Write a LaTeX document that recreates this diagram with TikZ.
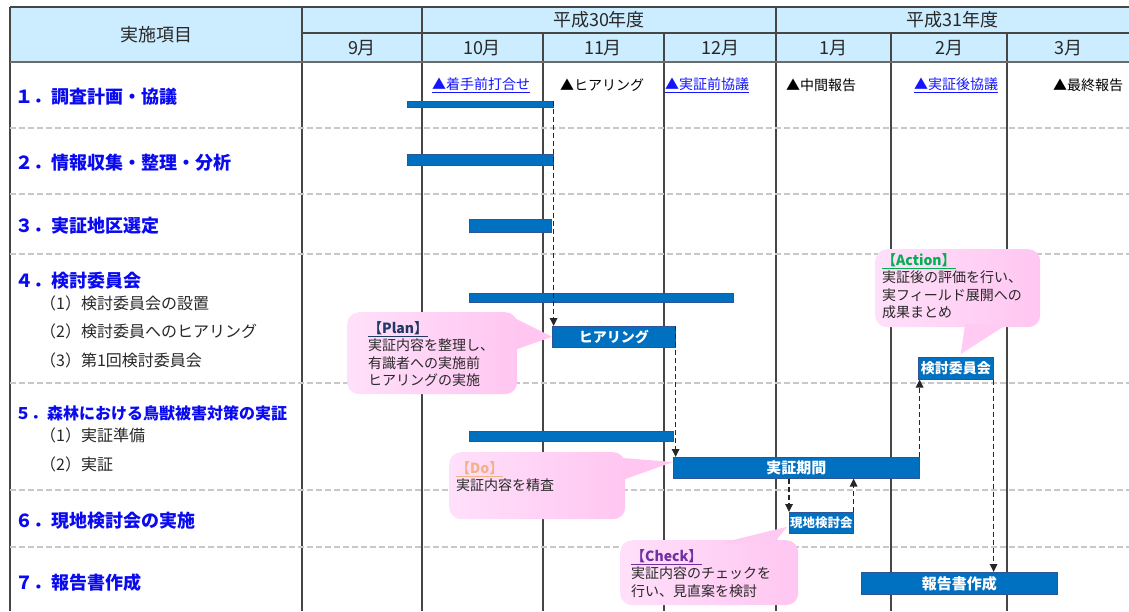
\documentclass[tikz,border=0pt]{standalone}
\usepackage{fontspec}
\setmainfont{Noto Sans CJK JP}
\usetikzlibrary{arrows.meta,calc}
\definecolor{hdr}{RGB}{204,236,255}
\definecolor{gridc}{RGB}{70,70,70}
\definecolor{dashc}{RGB}{200,200,200}
\definecolor{barc}{RGB}{0,112,192}
\definecolor{barb}{RGB}{47,85,151}
\definecolor{lbl}{RGB}{10,10,240}
\definecolor{lnk}{RGB}{20,20,255}
\definecolor{pinkL}{RGB}{255,224,250}
\definecolor{pinkR}{RGB}{255,198,241}
\definecolor{plancol}{RGB}{32,56,100}
\definecolor{actcol}{RGB}{0,176,80}
\definecolor{docol}{RGB}{244,177,131}
\definecolor{chkcol}{RGB}{112,48,160}
\definecolor{txtc}{RGB}{40,40,40}
\tikzset{
  gridline/.style={draw=gridc, line width=1.3pt},
  hdrbottom/.style={draw=gridc!80, line width=2.2pt},
  rowsep/.style={draw=dashc, line width=1.1pt, dash pattern=on 6pt off 3pt},
  hdrtxt/.style={inner sep=0pt, text=txtc, font=\fontsize{18}{18}\selectfont},
  mainlbl/.style={inner sep=0pt, anchor=west, text=lbl, font=\bfseries\fontsize{18}{18}\selectfont},
  sublbl/.style={inner sep=0pt, anchor=west, text=txtc, font=\fontsize{16}{16}\selectfont},
  mstone/.style={inner sep=0pt, anchor=west, text=black, font=\fontsize{14}{14}\selectfont},
  mslink/.style={mstone, text=lnk},
  bar/.style={draw=barb, line width=0.6pt, fill=barc, inner sep=0pt, anchor=north west,
              text=white, font=\bfseries\fontsize{14}{14}\selectfont},
  dasharrow/.style={draw=black!85, line width=1.6pt, dash pattern=on 5pt off 3pt,
              -{Triangle[length=8pt,width=7.5pt]}},
  callout/.style={left color=pinkL, right color=pinkR, rounded corners=12pt,
              inner sep=0pt, anchor=north west},
  ctext/.style={inner sep=0pt, anchor=north west, align=left, text=txtc,
              font=\fontsize{14}{17.5}\selectfont},
}
\begin{document}
\begin{tikzpicture}[x=1pt,y=-1pt]
\useasboundingbox[fill=white] (0,0) rectangle (1129,611);
% header
\fill[hdr] (10,7) rectangle (1129,62);
\draw[gridline] (10,7) -- (1129,7);
\draw[gridline] (302,33) -- (1129,33);
\foreach \x in {302,422,776} \draw[gridline] (\x,7) -- (\x,611);
\foreach \x in {543,664,891,1007} \draw[gridline] (\x,33) -- (\x,611);
\draw[gridline] (10,7) -- (10,611);
\draw[hdrbottom] (10,62) -- (1129,62);
\foreach \y in {128,194,254,383,490,547} \draw[rowsep] (10,\y) -- (1129,\y);

\node[hdrtxt] (hitem) at (156,35) {実施項目};
\node[hdrtxt] (h30) at (599,20) {平成30年度};
\node[hdrtxt] (h31) at (952,20) {平成31年度};
\node[hdrtxt] (m9) at (362,48) {9月};
\node[hdrtxt] (m10) at (482,48) {10月};
\node[hdrtxt] (m11) at (603,48) {11月};
\node[hdrtxt] (m12) at (720,48) {12月};
\node[hdrtxt] (m1) at (833,48) {1月};
\node[hdrtxt] (m2) at (949,48) {2月};
\node[hdrtxt] (m3) at (1068,48) {3月};

% row labels
\node[mainlbl] (l1) at (15,97) {１．調査計画・協議};
\node[mainlbl] (l2) at (15,163) {２．情報収集・整理・分析};
\node[mainlbl] (l3) at (15,226) {３．実証地区選定};
\node[mainlbl] (l4) at (15,281) {４．検討委員会};
\node[sublbl] (s41) at (40,303) {（1）検討委員会の設置};
\node[sublbl] (s42) at (40,331) {（2）検討委員へのヒアリング};
\node[sublbl] (s43) at (40,360) {（3）第1回検討委員会};
\node[mainlbl, font=\bfseries\fontsize{16}{16}\selectfont] (l5) at (15,413) {５．森林における鳥獣被害対策の実証};
\node[sublbl] (s51) at (40,435) {（1）実証準備};
\node[sublbl] (s52) at (40,464) {（2）実証};
\node[mainlbl] (l6) at (15,521) {６．現地検討会の実施};
\node[mainlbl] (l7) at (15,583) {７．報告書作成};

% milestones
\node[mslink] (ms1) at (432,85) {\underline{▲着手前打合せ}};
\node[mstone] (ms2) at (560,85) {▲ヒアリング};
\node[mslink] (ms3) at (665,85) {\underline{▲実証前協議}};
\node[mstone] (ms4) at (786,85) {▲中間報告};
\node[mslink] (ms5) at (914,85) {\underline{▲実証後協議}};
\node[mstone] (ms6) at (1053,85) {▲最終報告};

% callouts
\node[callout, minimum width=170pt, minimum height=82pt] (plan) at (347,312) {};
\node[callout, minimum width=165pt, minimum height=78pt] (act) at (875,249) {};
\node[callout, minimum width=176pt, minimum height=67pt] (do) at (449,452) {};
\node[callout, minimum width=178pt, minimum height=65pt] (chk) at (620,540) {};

% bars
\node[bar, minimum width=146pt, minimum height=6pt] (b1) at (407,101) {};
\node[bar, minimum width=146pt, minimum height=11pt] (b2) at (407,154) {};
\node[bar, minimum width=82pt, minimum height=13pt] (b3) at (469,219) {};
\node[bar, minimum width=264pt, minimum height=9pt] (b4a) at (469,293) {};
\node[bar, minimum width=123pt, minimum height=21pt] (b4b) at (552,326) {ヒアリング};
\node[bar, minimum width=75pt, minimum height=22pt] (b4c) at (918,357) {検討委員会};
\node[bar, minimum width=204pt, minimum height=10pt] (b5a) at (469,431) {};
\node[bar, minimum width=246pt, minimum height=21pt, font=\bfseries\fontsize{15}{15}\selectfont] (b5b) at (673,457) {実証期間};
\node[bar, minimum width=64pt, minimum height=21pt, font=\bfseries\fontsize{12.5}{12.5}\selectfont] (b6) at (789,512) {現地検討会};
\node[bar, minimum width=196pt, minimum height=22pt, font=\bfseries\fontsize{15}{15}\selectfont] (b7) at (861,572) {報告書作成};

% callout pointers
\fill[pinkR] ($(plan.north east)+(-3,6)$) -- (b4b.west) -- ($(plan.north east)+(-3,38)$) -- cycle;
\fill[pinkR!80!pinkL] ($(act.south west)+(90,-3)$) -- ($(b4c.north)+(5,-3)$) -- ($(act.south west)+(132,-3)$) -- cycle;
\fill[pinkR] ($(do.north east)+(-3,6)$) -- ($(b5b.north west)+(0,5)$) -- ($(do.north east)+(-3,28)$) -- cycle;
\fill[pinkR!85!pinkL] ($(chk.north west)+(101,3)$) -- ($(b6.west)+(-2,4)$) -- ($(chk.north west)+(154,3)$) -- cycle;

% callout texts
\node[ctext] (tplan) at (368,321) {\textcolor{plancol}{\bfseries\underline{【Plan】}}\\実証内容を整理し、\\有識者への実施前\\ヒアリングの実施};
\node[ctext] (tact) at (882,253) {\textcolor{actcol}{\bfseries\underline{【Action】}}\\実証後の評価を行い、\\実フィールド展開への\\成果まとめ};
\node[ctext] (tdo) at (456,461) {\textcolor{docol}{\bfseries\underline{【Do】}}\\実証内容を精査};
\node[ctext] (tchk) at (631,549) {\textcolor{chkcol}{\bfseries\underline{【Check】}}\\実証内容のチェックを\\行い、見直案を検討};

% dashed arrows
\draw[dasharrow] (b1.north east) -- (b1.north east |- b4b.north);
\draw[dasharrow] (b4b.north east) -- (b4b.north east |- b5b.north);
\draw[dasharrow] (b6.north west |- b5b.south) -- (b6.north west);
\draw[dasharrow] (b6.north east) -- (b6.north east |- b5b.south);
\draw[dasharrow] (b5b.north east) -- (b5b.north east |- b4c.south);
\draw[dasharrow] (b4c.south east) -- (b4c.south east |- b7.north);
\end{tikzpicture}
\end{document}
